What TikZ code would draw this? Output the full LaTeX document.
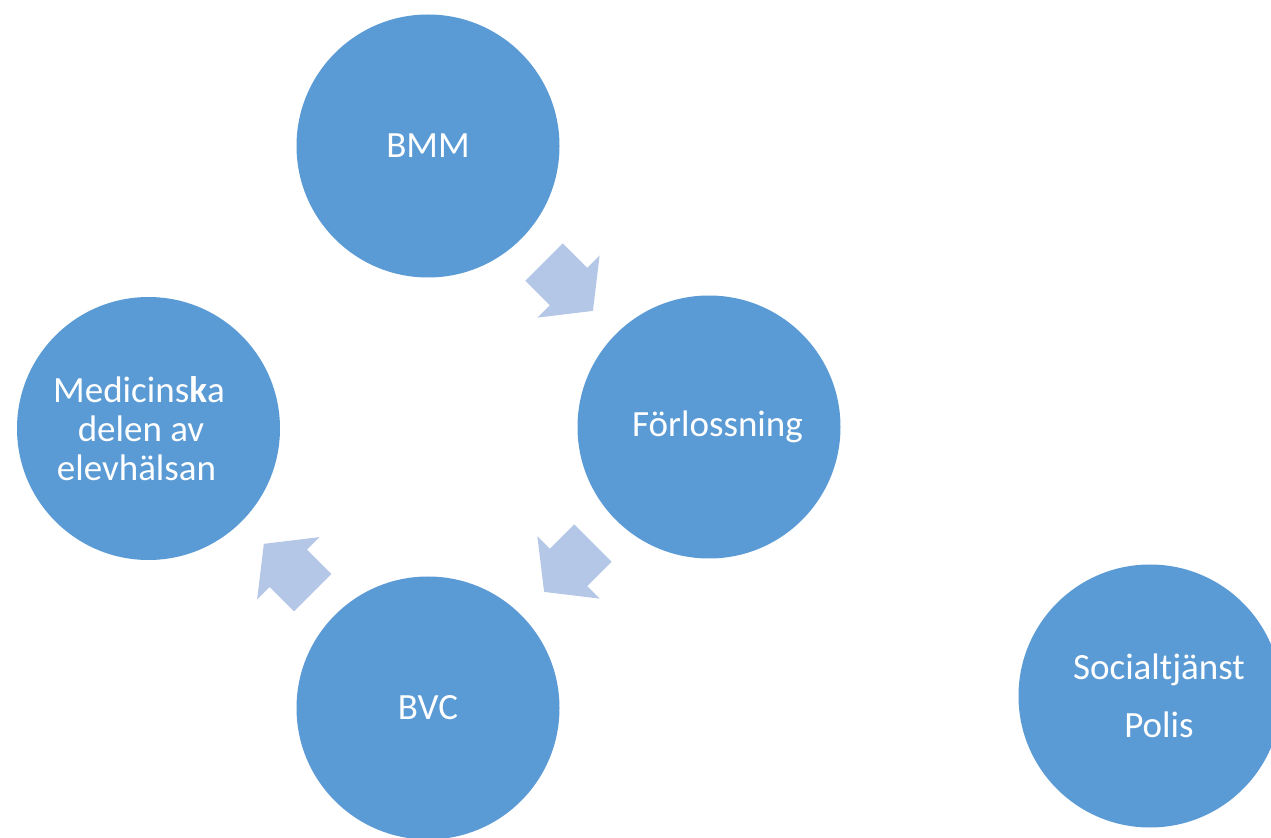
\documentclass[tikz,border=0pt]{standalone}
\usepackage{fontspec}
\setmainfont{Carlito}
\usetikzlibrary{calc}
\definecolor{ringblue}{HTML}{5B9BD5}
\definecolor{turnblue}{HTML}{B4C7E7}
\tikzset{
  station/.style={circle,fill=ringblue,minimum size=131.5pt,inner sep=0pt,
    text=white,align=center,font=\fontsize{18.5}{19.5}\selectfont},
  turn/.pic={\fill[turnblue] (-34.5,-26.5) -- (0,-26.5) -- (0,-44) -- (34.5,0)
    -- (0,44) -- (0,26.5) -- (-34.5,26.5) -- cycle;}
}
\begin{document}
\begin{tikzpicture}[x=0.5pt,y=0.5pt]
  \useasboundingbox[fill=white] (0,0) rectangle (1271,837);

  \node[station] (bmm) at (428,691) {BMM};
  \node[station] (forl) at (709,410) {\hspace*{8.5pt}Förlossning};
  \node[station] (bvc) at (428,129) {BVC};
  \node[station] (med) at (148.5,408.5)
    {\hspace*{-9.5pt}Medicins\textbf{k}a\\\hspace*{-7.5pt}delen av\\\hspace*{-12pt}elevhälsan};
  \node[station] (soc) at (1150,141)
    {\hspace*{9pt}Socialtjänst\\[9.5pt]\hspace*{9pt}Polis};

  % arrows of the cycle
  \pic[rotate=-45] at ($(bmm)!.5!(forl)$) {turn};
  \pic[rotate=-135] at ($(forl)!.5!(bvc)$) {turn};
  \pic[rotate=135] at ($(bvc)!.5!(med)$) {turn};
\end{tikzpicture}
\end{document}
